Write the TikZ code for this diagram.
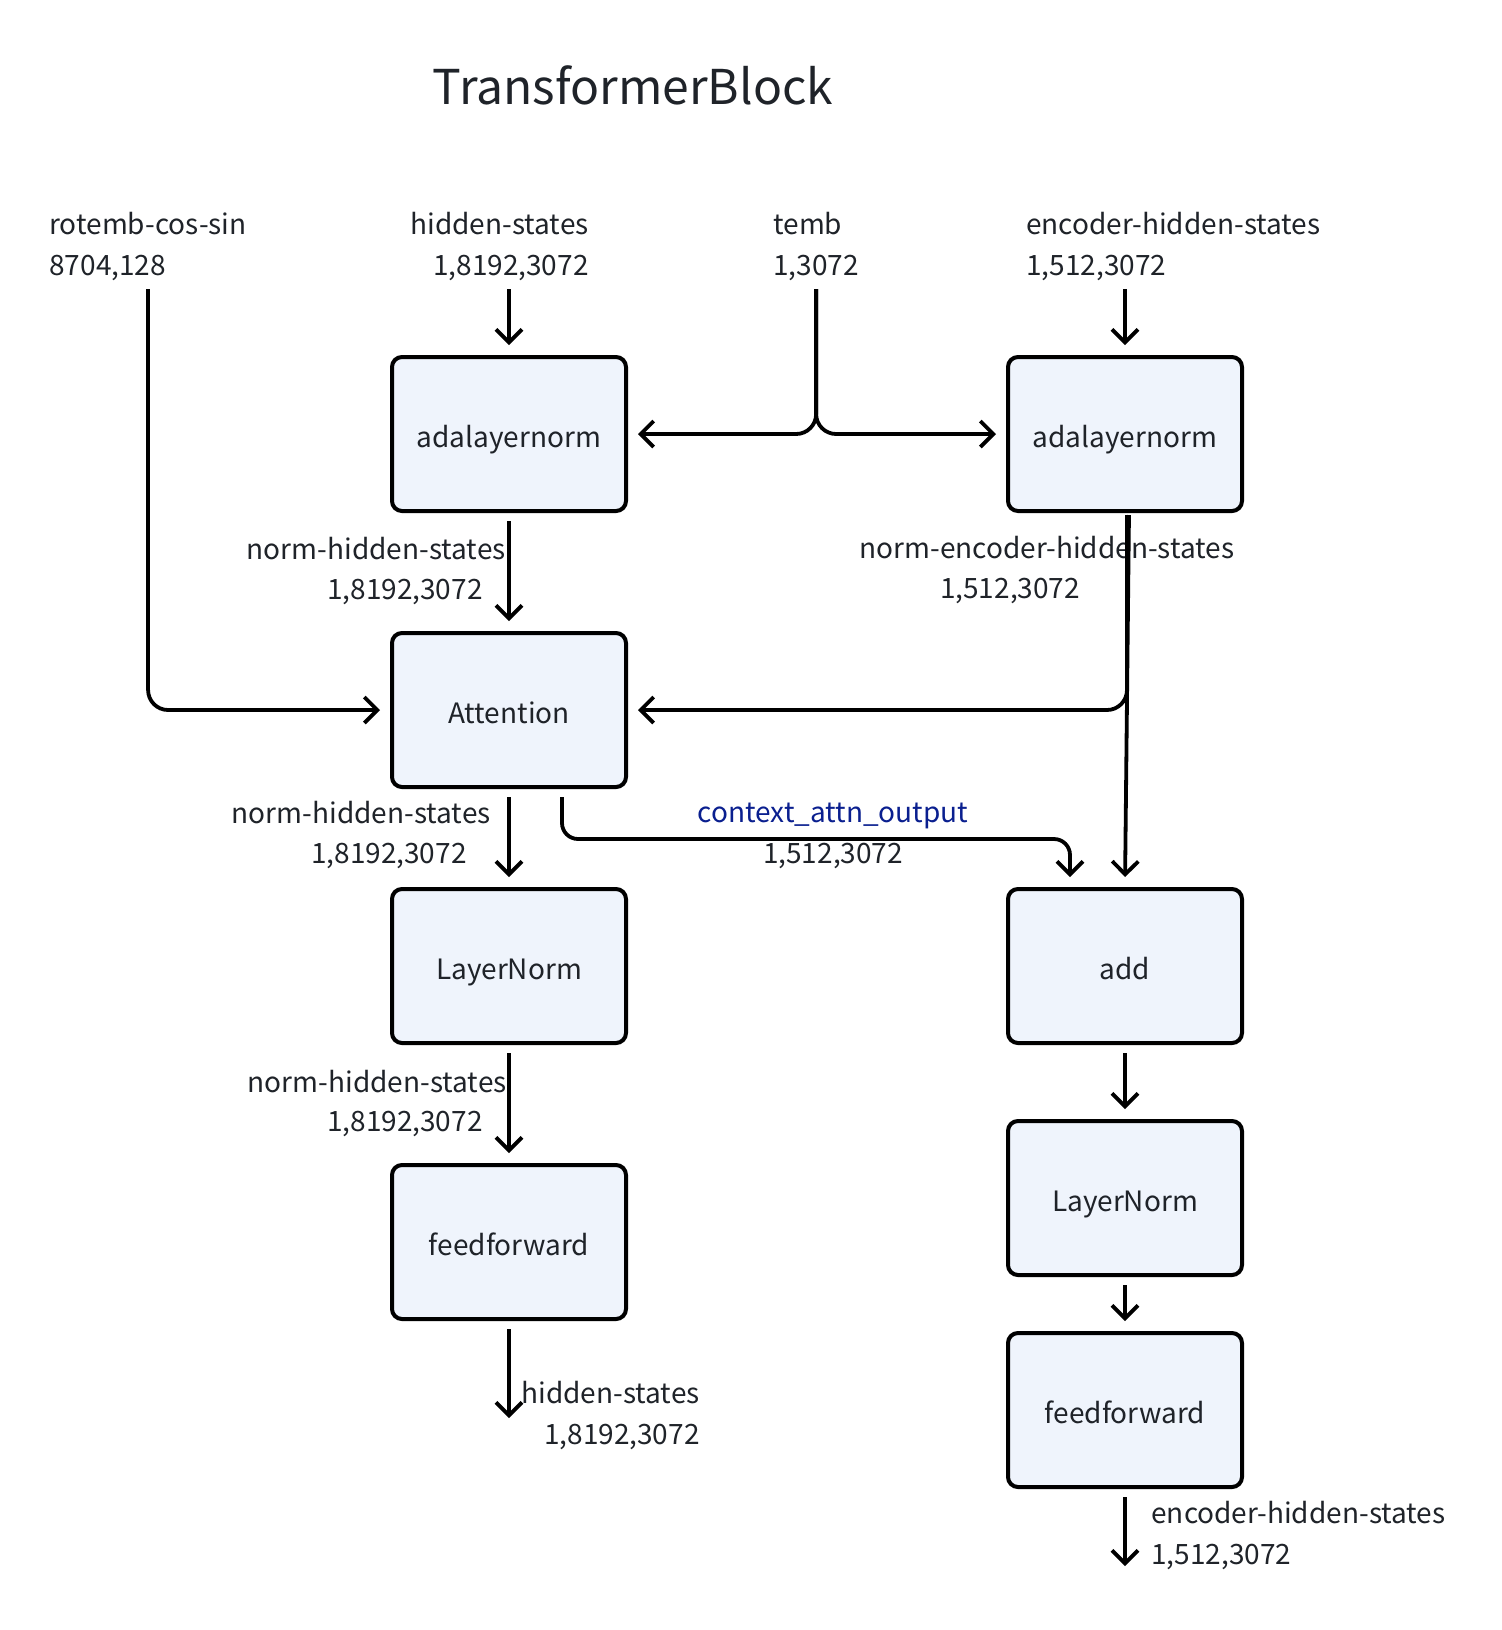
\documentclass[tikz,border=0pt]{standalone}
\usepackage{fontspec}
\setmainfont{Noto Sans CJK SC}
\usetikzlibrary{arrows.meta}
\definecolor{boxfill}{HTML}{EFF4FC}
\definecolor{txtgray}{HTML}{1F2329}
\definecolor{ctxblue}{HTML}{0A1F8F}

\begin{document}
\begin{tikzpicture}[x=0.5pt,y=-0.5pt]
\tikzset{
block/.style={rectangle,rounded corners=5pt,draw=black,fill=boxfill,line width=2pt,minimum width=117pt,minimum height=77pt,text height=15.5pt,text depth=2.5pt,text=txtgray,font=\fontsize{14pt}{20.5pt}\selectfont},
mylabel/.style={inner sep=0pt,text=txtgray,font=\fontsize{14pt}{20.5pt}\selectfont},
myarrow/.style={-{Straight Barb[length=6.5pt,width=13pt]}, line width=1.9pt, shorten >=5pt, shorten <=4pt},
}
\useasboundingbox (0,0) rectangle (1502,1630);

\node [mylabel,font=\fontsize{24pt}{28pt}\selectfont] (title) at (633,85) {TransformerBlock};

\node [mylabel,align=left,anchor=west] (rotemb) at (49,246.5) {rotemb-cos-sin\\8704,128};
\node [mylabel,align=right,anchor=east] (hsin) at (589,246.5) {hidden-states\\1,8192,3072};
\node [mylabel,align=left,anchor=west] (temb) at (773,246.5) {temb\\1,3072};
\node [mylabel,align=left,anchor=west] (ehsin) at (1026,246.5) {encoder-hidden-states\\1,512,3072};

\node [block] (adaln1) at (509,434) {adalayernorm};
\node [block] (adaln2) at (1125,434) {adalayernorm};
\node [block] (attn) at (509,710) {Attention};
\node [block] (ln1) at (509,966) {LayerNorm};
\node [block] (ff1) at (509,1242) {feedforward};
\node [block] (add) at (1125,966) {add};
\node [block] (ln2) at (1125,1198) {LayerNorm};
\node [block] (ff2) at (1125,1410) {feedforward};

\node [mylabel,anchor=east] (nhs1) at (506,549) {norm-hidden-states};
\node [mylabel,anchor=east] (nhs1d) at (483,592) {1,8192,3072};
\node [mylabel,anchor=east] (nhs2) at (491,813) {norm-hidden-states};
\node [mylabel,anchor=east] (nhs2d) at (467,856) {1,8192,3072};
\node [mylabel,anchor=east] (nhs3) at (507,1082) {norm-hidden-states};
\node [mylabel,anchor=east] (nhs3d) at (483,1124) {1,8192,3072};
\node [mylabel] (nehs) at (1047,548) {norm-encoder-hidden-states};
\node [mylabel] (nehsd) at (1010,591) {1,512,3072};
\node [mylabel,align=center] (ctx) at (833,836) {\textcolor{ctxblue}{context\_attn\_output}\\1,512,3072};
\node [mylabel,align=right,anchor=east] (hsout) at (700,1415) {hidden-states\\1,8192,3072};
\node [mylabel,align=left,anchor=west] (ehsout) at (1151,1535) {encoder-hidden-states\\1,512,3072};

\coordinate (hsend) at (509,1418);
\coordinate (ehsend) at (1125,1566);

% inputs
\draw[myarrow,rounded corners=10pt] (rotemb.south) |- (attn.west);
\draw[myarrow] (hsin.south -| adaln1.north) -- (adaln1.north);
\draw[myarrow,rounded corners=10pt] (temb.south) |- (adaln1.east);
\draw[myarrow,rounded corners=10pt] (temb.south) |- (adaln2.west);
\draw[myarrow] (ehsin.south -| adaln2.north) -- (adaln2.north);
% left column
\draw[myarrow] (adaln1) -- (attn);
\draw[myarrow] (attn) -- (ln1);
\draw[myarrow] (ln1) -- (ff1);
\draw[myarrow,shorten >=0pt] (ff1) -- (hsend);
% right column
\draw[myarrow,shorten <=1pt] ([xshift=2pt]adaln2.south) -- (add.north);
\draw[myarrow,rounded corners=10pt,shorten <=1pt] ([xshift=1pt]adaln2.south) |- (attn.east);
\draw[myarrow,rounded corners=8pt] ([xshift=26.5pt]attn.south) -- ++(0,50) -| ([xshift=-27.5pt]add.north);
\draw[myarrow] (add) -- (ln2);
\draw[myarrow] (ln2) -- (ff2);
\draw[myarrow,shorten >=0pt] (ff2) -- (ehsend);
\end{tikzpicture}
\end{document}
